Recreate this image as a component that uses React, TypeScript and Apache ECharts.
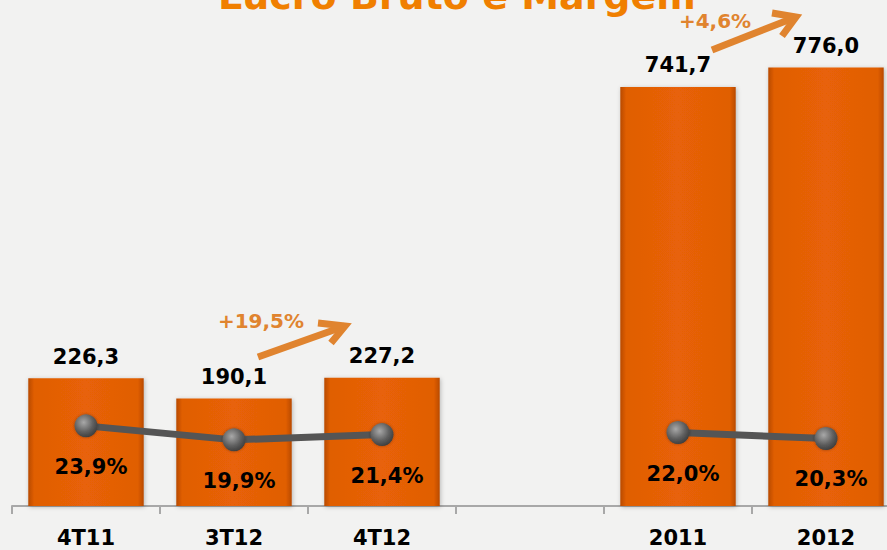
import React, { useEffect, useRef } from "react";
import * as echarts from "echarts";

const categories = ["4T11", "3T12", "4T12", "", "2011", "2012"];
const lucroBruto = [226.3, 190.1, 227.2, null, 741.7, 776.0];
const margem = [23.9, 19.9, 21.4, null, 22.0, 20.3];
const titleText = "Lucro Bruto e Margem";
const growthLabels = ["+19,5%", "+4,6%"];

const FONT = "'DejaVu Sans', Verdana, sans-serif";
const ARROW = "#E0842F";

const fmt = (v: number) => v.toFixed(1).replace(".", ",");

function arrow(x1: number, y1: number, x2: number, y2: number, a1: number[], a2: number[]) {
  return [
    {
      type: "line",
      shape: { x1, y1, x2, y2 },
      style: { stroke: ARROW, lineWidth: 7, lineCap: "butt" },
      z: 10,
    },
    {
      type: "polyline",
      shape: { points: [a1, [x2, y2], a2] },
      style: { stroke: ARROW, lineWidth: 7, fill: null, lineJoin: "miter", lineCap: "butt" },
      z: 10,
    },
  ];
}

export default function App() {
  const ref = useRef<HTMLDivElement>(null);
  useEffect(() => {
    if (!ref.current) return;
    const chart = echarts.init(ref.current, null, { renderer: "svg" });
    chart.setOption({
      animation: false,
      backgroundColor: "#F2F2F1",
      grid: {
        left: 12,
        width: 888,
        top: 6,
        height: 500,
        containLabel: false,
        outerBoundsMode: "none",
      },
      xAxis: {
        type: "category",
        data: categories,
        axisLine: { lineStyle: { color: "#A8A8A8", width: 2 } },
        axisTick: { show: true, length: 8, lineStyle: { color: "#A8A8A8", width: 2 } },
        axisLabel: {
          color: "#000",
          fontFamily: FONT,
          fontWeight: "bold",
          fontSize: 21,
          margin: 21,
        },
      },
      yAxis: [
        { type: "value", min: 0, max: 885, show: false },
        { type: "value", min: 1, max: 143.9, show: false },
      ],
      series: [
        {
          type: "bar",
          data: lucroBruto,
          barWidth: "78%",
          itemStyle: {
            color: new echarts.graphic.LinearGradient(0, 0, 1, 0, [
              { offset: 0, color: "#B84A00" },
              { offset: 0.05, color: "#E05E05" },
              { offset: 0.5, color: "#E86207" },
              { offset: 0.95, color: "#E05E05" },
              { offset: 1, color: "#B84A00" },
            ]),
            borderWidth: 0,
            shadowColor: "rgba(0,0,0,0.25)",
            shadowBlur: 4,
            shadowOffsetX: 1,
            shadowOffsetY: 1,
          },
          label: {
            show: true,
            position: "top",
            distance: 11,
            color: "#000",
            fontFamily: FONT,
            fontWeight: "bold",
            fontSize: 21,
            formatter: (p: any) => fmt(p.value),
          },
          z: 2,
        },
        {
          type: "line",
          yAxisIndex: 1,
          data: margem,
          connectNulls: false,
          symbol: "circle",
          symbolSize: 23,
          lineStyle: { color: "#555555", width: 7 },
          itemStyle: {
            color: new echarts.graphic.RadialGradient(0.4, 0.35, 0.7, [
              { offset: 0, color: "#A8A8A8" },
              { offset: 0.6, color: "#5E5E5E" },
              { offset: 1, color: "#3A3A3A" },
            ]),
            borderWidth: 0,
            shadowColor: "rgba(0,0,0,0.35)",
            shadowBlur: 3,
          },
          label: {
            show: true,
            position: "bottom",
            distance: 19,
            offset: [5, 0],
            color: "#000",
            fontFamily: FONT,
            fontWeight: "bold",
            fontSize: 21,
            formatter: (p: any) => fmt(p.value) + "%",
          },
          z: 5,
        },
      ],
      graphic: [
        {
          type: "text",
          x: 457,
          y: -4,
          style: {
            text: titleText,
            fill: "#F07F00",
            font: `bold 38px ${FONT}`,
            align: "center",
            verticalAlign: "middle",
          },
        },
        {
          type: "text",
          x: 261,
          y: 321,
          style: {
            text: growthLabels[0],
            fill: ARROW,
            font: `bold 20px ${FONT}`,
            align: "center",
            verticalAlign: "middle",
          },
        },
        {
          type: "text",
          x: 715,
          y: 21,
          style: {
            text: growthLabels[1],
            fill: ARROW,
            font: `bold 20px ${FONT}`,
            align: "center",
            verticalAlign: "middle",
          },
        },
        ...arrow(258, 357, 345, 326, [318, 323], [331, 343]),
        ...arrow(712, 50, 796, 17, [772, 13], [782, 36]),
      ],
    });
    return () => chart.dispose();
  }, []);
  return (
    <div
      ref={ref}
      style={{ position: "absolute", left: 0, top: 0, width: 887, height: 550 }}
    />
  );
}
